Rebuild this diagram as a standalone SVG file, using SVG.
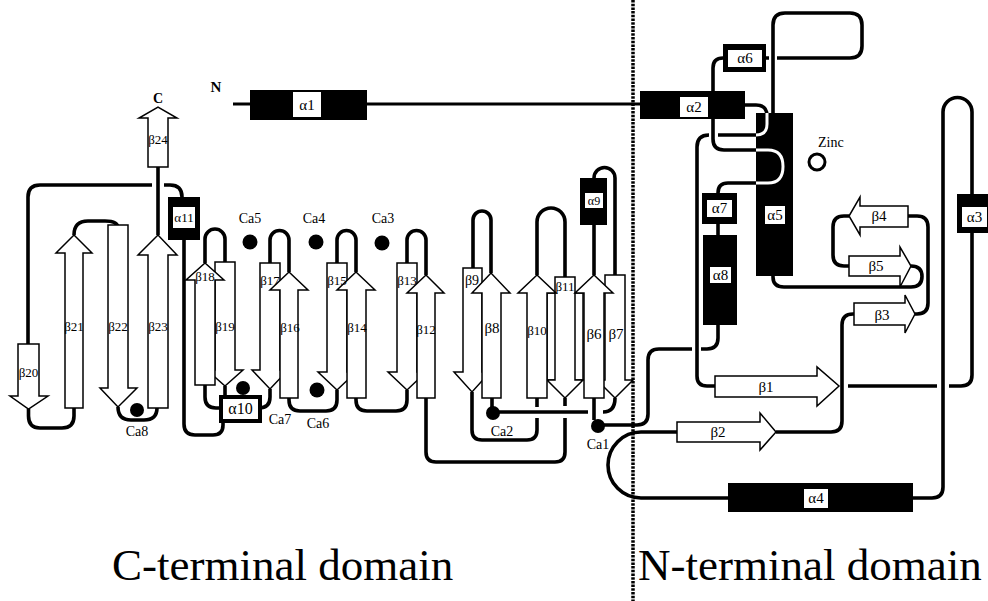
<svg xmlns="http://www.w3.org/2000/svg" width="988" height="601" viewBox="0 0 988 601">
<style>
.c{fill:none;stroke:#000;stroke-width:3.6;stroke-linejoin:round}
.w{fill:none;stroke:#fff;stroke-width:3}
.s{fill:#fff;stroke:#000;stroke-width:1.5}
.h{fill:#000}
.lb{fill:#fff}
.dot{fill:#000}
text{font-family:"Liberation Serif","Times New Roman",serif;fill:#000}
.hl{font-size:15px;text-anchor:middle}
.b{font-size:13px;text-anchor:middle}
.nb{font-size:15px;text-anchor:middle}
.ca{font-size:14px;text-anchor:middle}
.dom{font-size:45px}
</style>
<rect width="988" height="601" fill="#fff"/>
<g id="connectors">
<path class="c" style="stroke-width:3" d="M233,104 L250,104 M367,104 L640,104"/>
<path class="c" d="M745,105 L756,105 Q767,105 767,116"/>
<path class="c" d="M757,135 L718,135 M709,135 Q697,135 697,147 L697,376 Q697,386 707,386 L716,386"/>
<path class="c" d="M723,58 Q713,58 713,68 L713,139 Q713,150 724,150 L757,150"/>
<path class="c" d="M757,183 L728,183 Q718,183 718,193"/>
<path class="c" d="M766,58 L769,58 M777,58 L850,58 Q862,58 862,46 L862,25 Q862,13 850,13 L785,13 Q773,13 773,25 L773,113"/>
<path class="c" d="M718,224 L718,235"/>
<path class="c" d="M718,325 L718,338 Q718,349 707,349 L701,349 M692,349 L659,349 Q648,349 648,360 L648,414 Q648,425 637,425 L600,425"/>
<path class="c" d="M773,276 L773,277 Q773,287 784,287 L911,287 Q922,287 922,276.5 Q922,266 911,266"/>
<path class="c" d="M849,266 L844,266 Q833,266 833,255 L833,227 Q833,216 844,216 L849,216"/>
<path class="c" d="M908,216 L917,216 Q928,216 928,227 L928,303 Q928,314 917,314 L915,314"/>
<path class="c" d="M854,314 L853,314 Q842,314 842,325 L842,421 Q842,432 831,432 L776,432"/>
<path class="c" d="M677,432 L641,432 A33,33 0 0 0 641,498 L728,498"/>
<path class="c" d="M913,498 L932,498 Q943,498 943,487 L943,112 A14.5,14.5 0 0 1 972,112 L972,194"/>
<path class="c" d="M972,233 L972,375 Q972,386 961,386 L949,386 M937,386 L848,386"/>
<path class="c" d="M594,398 L594,420"/>
<path class="c" d="M594,275 L594,225"/>
<path class="c" d="M594,178 A10.5,10.5 0 0 1 615,178 L615,275"/>
<path class="c" d="M615,398 Q615,412 603,412 M588,412 L492,412 L492,398"/>
<path class="c" d="M491,273 L491,220 A9,9 0 0 0 473,220 L473,268"/>
<path class="c" d="M472,392 L472,430 Q472,440 482,440 L527,440 Q537,440 537,430 L537,418 M537,407 L537,398"/>
<path class="c" d="M537,275 L537,222 A14,14 0 0 1 565,222 L565,277"/>
<path class="c" d="M565,398 L565,406 M565,418 L565,452 Q565,462 555,462 L436,462 Q426,462 426,452 L426,398"/>
<path class="c" d="M426,275 L426,240 A9.5,9.5 0 0 0 407,240 L407,263"/>
<path class="c" d="M407,390 L407,400 Q407,411 396,411 L367,411 Q356,411 356,400 L356,398"/>
<path class="c" d="M356,272 L356,240 A9.5,9.5 0 0 0 337,240 L337,263"/>
<path class="c" d="M337,390 L337,400 Q337,411 326,411 L300,411 Q289,411 289,400 L289,398"/>
<path class="c" d="M289,272 L289,240 A9.5,9.5 0 0 0 270,240 L270,263"/>
<path class="c" d="M270,389 L270,397 Q270,408 259,408 L216,408 Q205,408 205,397 L205,385"/>
<path class="c" d="M205,263 L205,239 A10,10 0 0 1 225,239 L225,262"/>
<path class="c" d="M225,386 L225,395"/>
<path class="c" d="M223,423 L223,425 Q223,435 213,435 L195,435 Q184,435 184,424 L184,240"/>
<path class="c" d="M182,197 Q182,185 170,185 L164,185 M152,185 L40,185 Q28,185 28,197 L28,344"/>
<path class="c" d="M28.5,409 L28.5,416 Q28.5,428 40,428 L62,428 Q74,428 74,416 L74,408"/>
<path class="c" d="M74,235 Q74,221 88,221 L105,221 Q118,221 118,228"/>
<path class="c" d="M118,407 Q118,420 131,420 L144,420 Q157,420 157,408"/>
<path class="c" d="M158,235 L158,167"/>
</g>
<g id="strands-down">
<rect class="s" x="547" y="293" width="36" height="87"/>
<polygon id="b22" class="s" points="108,225 128,225 128,388 137,388 118,407 100,388 108,388"/>
<polygon id="b20" class="s" points="18,344 39,344 39,396 48,396 28.5,409 10,396 18,396"/>
<polygon id="b19" class="s" points="215,262 235,262 235,370 243,370 225,386 207,370 215,370"/>
<polygon id="b17" class="s" points="260,263 280,263 280,370 288,370 270,389 252,370 260,370"/>
<polygon id="b15" class="s" points="327,263 347,263 347,372 356,372 337,390 318,372 327,372"/>
<polygon id="b13" class="s" points="397,263 417,263 417,372 426,372 407,390 388,372 397,372"/>
<polygon id="b9" class="s" points="463,268 482,268 482,372 490,372 472,392 454,372 463,372"/>
<polygon id="b11" class="s" points="555,277 575,277 575,380 583,380 565,398 547,380 555,380"/>
<polygon id="b7" class="s" points="605,275 625,275 625,380 633,380 615,398 597,380 605,380"/>
</g>
<g id="strands-up">
<polygon id="b24" class="s" points="148,167 148,118 139,118 158,107 177,118 168,118 168,167"/>
<polygon id="b23" class="s" points="148,408 148,255 138,255 158,235 177,255 168,255 168,408"/>
<polygon id="b21" class="s" points="65,408 65,253 56,253 74,235 92,253 83,253 83,408"/>
<polygon id="b18" class="s" points="195,385 195,280 186,280 205,263 224,280 215,280 215,385"/>
<polygon id="b16" class="s" points="280,398 280,290 270,290 289,272 308,290 298,290 298,398"/>
<polygon id="b14" class="s" points="347,398 347,290 337,290 356,272 375,290 366,290 366,398"/>
<polygon id="b12" class="s" points="417,398 417,293 407,293 426,275 444,293 435,293 435,398"/>
<polygon id="b8" class="s" points="482,398 482,293 472,293 491,273 510,293 501,293 501,398"/>
<polygon id="b10" class="s" points="527,398 527,293 518,293 537,275 556,293 547,293 547,398"/>
<polygon id="b6" class="s" points="584,398 584,293 575,293 594,275 613,293 604,293 604,398"/>
</g>
<g id="strands-n">
<polygon id="b1" class="s" points="715,376 817,376 817,367 839,386 817,406 817,397 715,397"/>
<polygon id="b2" class="s" points="677,422 760,422 760,413 776,432 760,450 760,442 677,442"/>
<polygon id="b3" class="s" points="854,303 905,303 905,295 915,314 905,333 905,325 854,325"/>
<polygon id="b5" class="s" points="849,256 900,256 900,247 911,266 900,287 900,276 849,276"/>
<polygon id="b4" class="s" points="908,206 860,206 860,197 849,216 860,235 860,227 908,227"/>
</g>
<g id="a1"><rect class="h" x="250" y="90" width="117" height="30"/><rect class="lb" x="293" y="92" width="28" height="25"/><text class="hl" x="307" y="110">α1</text></g>
<g id="a2"><rect class="h" x="640" y="91" width="105" height="28"/><rect class="lb" x="680" y="97" width="28" height="20"/><text class="hl" x="694" y="112">α2</text></g>
<g id="a3"><rect class="h" x="957" y="194" width="31" height="39"/><rect class="lb" x="962" y="207" width="25" height="20"/><text class="hl" x="974.5" y="222">α3</text></g>
<g id="a4"><rect class="h" x="728" y="483" width="185" height="29"/><rect class="lb" x="804" y="489" width="24" height="19"/><text class="hl" x="816" y="503">α4</text></g>
<g id="a5"><rect class="h" x="756" y="113" width="37" height="163"/><rect class="lb" x="765" y="206" width="20" height="18"/><text class="hl" x="775" y="220">α5</text></g>
<g id="a6"><rect class="h" x="723" y="44" width="43" height="28"/><rect class="lb" x="728" y="50" width="34" height="17"/><text class="hl" x="745" y="63">α6</text></g>
<g id="a7"><rect class="h" x="702" y="193" width="35" height="31"/><rect class="lb" x="707" y="200" width="25" height="17"/><text class="hl" x="719.5" y="213">α7</text></g>
<g id="a8"><rect class="h" x="703" y="235" width="34" height="90"/><rect class="lb" x="710" y="267" width="21" height="16"/><text class="hl" x="720.5" y="280">α8</text></g>
<g id="a9"><rect class="h" x="580" y="178" width="27" height="47"/><rect class="lb" x="585" y="193" width="18" height="15"/><text class="hl" style="font-size:12px" x="594" y="205">α9</text></g>
<g id="a10"><rect class="h" x="219" y="395" width="43" height="28"/><rect class="lb" x="223" y="399" width="35" height="20"/><text class="hl" style="font-size:16px" x="240.5" y="414">α10</text></g>
<g id="a11"><rect class="h" x="168" y="197" width="32" height="43"/><rect class="lb" x="173" y="207" width="22" height="21"/><text class="hl" style="font-size:13px" x="184" y="222">α11</text></g>
<g id="alpha5-inner">
<path class="w" d="M767,113 L767,124 Q767,135 756,135"/>
<path class="w" d="M756,150 L768,150 Q783,150 783,166.5 Q783,183 768,183 L756,183"/>
</g>
<g id="calcium">
<circle class="dot" cx="598" cy="426" r="7"/>
<circle class="dot" cx="493" cy="413" r="7"/>
<circle class="dot" cx="382" cy="243" r="7.5"/>
<circle class="dot" cx="316" cy="242" r="7.5"/>
<circle class="dot" cx="250" cy="242" r="7.5"/>
<circle class="dot" cx="317" cy="390" r="7.5"/>
<circle class="dot" cx="243" cy="388" r="7"/>
<circle class="dot" cx="137" cy="410" r="7"/>
<text class="ca" x="598" y="449">Ca1</text>
<text class="ca" x="502" y="436">Ca2</text>
<text class="ca" x="383" y="223">Ca3</text>
<text class="ca" x="314" y="223">Ca4</text>
<text class="ca" x="250" y="223">Ca5</text>
<text class="ca" x="318" y="428">Ca6</text>
<text class="ca" x="280" y="424">Ca7</text>
<text class="ca" x="137" y="436">Ca8</text>
</g>
<g id="zinc">
<circle cx="817" cy="162" r="8" fill="none" stroke="#000" stroke-width="3"/>
<text x="818" y="147" style="font-size:14px">Zinc</text>
</g>
<g id="strand-labels">
<text class="b" x="158" y="144">β24</text>
<text class="b" x="158" y="331">β23</text>
<text class="b" x="118" y="331">β22</text>
<text class="b" x="74" y="331">β21</text>
<text class="b" x="28.5" y="377">β20</text>
<text class="b" x="205" y="281">β18</text>
<text class="b" x="225" y="331">β19</text>
<text class="b" x="270" y="285">β17</text>
<text class="b" x="290" y="332">β16</text>
<text class="b" x="337" y="285">β15</text>
<text class="b" x="357" y="332">β14</text>
<text class="b" x="407" y="285">β13</text>
<text class="b" x="426" y="334">β12</text>
<text class="b" style="font-size:14px" x="472" y="285">β9</text>
<text class="b" style="font-size:15px" x="492" y="333">β8</text>
<text class="b" x="537" y="335">β10</text>
<text class="b" x="565" y="291">β11</text>
<text class="b" style="font-size:15px" x="594" y="339">β6</text>
<text class="b" style="font-size:15px" x="616" y="339">β7</text>
<text class="nb" x="766" y="392">β1</text>
<text class="nb" x="718" y="437">β2</text>
<text class="nb" x="882" y="320">β3</text>
<text class="nb" x="879" y="221">β4</text>
<text class="nb" x="876" y="271">β5</text>
</g>
<g id="termini">
<text x="158" y="103" style="font-size:14px;font-weight:bold;text-anchor:middle">C</text>
<text x="216" y="92" style="font-size:15px;font-weight:bold;text-anchor:middle">N</text>
</g>
<line x1="633" y1="0" x2="633" y2="601" stroke="#000" stroke-width="3.5" stroke-dasharray="2.5 1.2"/>
<text class="dom" x="112" y="580">C-terminal domain</text>
<text class="dom" x="638" y="580">N-terminal domain</text>
</svg>
